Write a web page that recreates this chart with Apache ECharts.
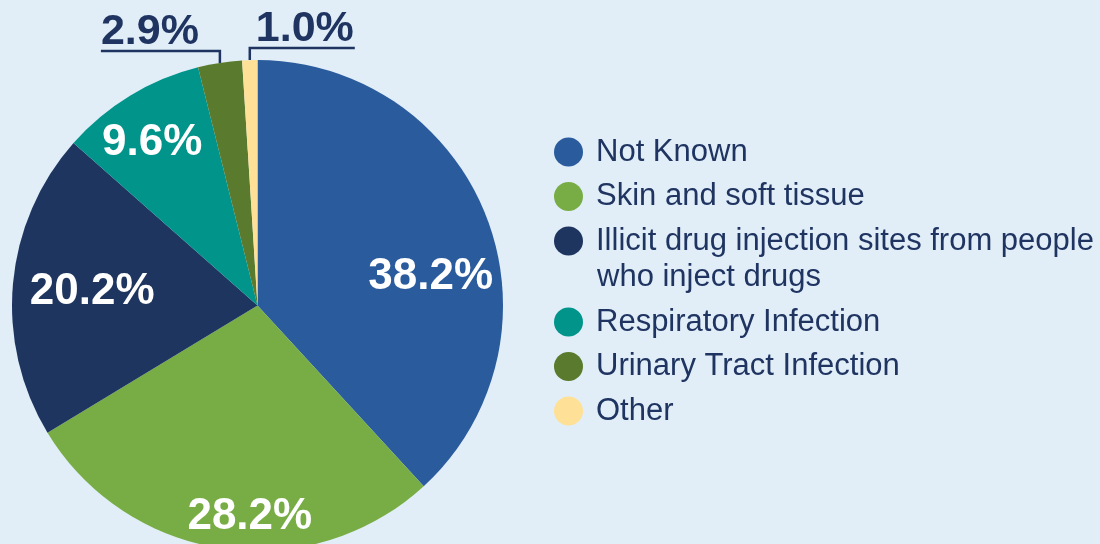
<!DOCTYPE html>
<html>
<head>
<meta charset="utf-8">
<title>Sources of infection</title>
<script src="https://cdn.jsdelivr.net/npm/echarts@6/dist/echarts.min.js"></script>
<style>
  html, body { margin: 0; padding: 0; background: #e1eef8; }
  #chart { width: 1100px; height: 544px; }
</style>
</head>
<body>
<div id="chart"></div>
<script>
// categories and shares (%)
const categories = [
  'Not Known',
  'Skin and soft tissue',
  'Illicit drug injection sites from people who inject drugs',
  'Respiratory Infection',
  'Urinary Tract Infection',
  'Other'
]
const shares = [38.2, 28.2, 20.2, 9.6, 2.9, 1.0]
const colors = ['#2a5b9c', '#78ad45', '#1e355f', '#00948a', '#5a7b2d', '#fee096']

// nudge of the white labels away from the default inside spot
const labelShift = [[56, 17], [10, 87], [-40, -2], [-40, -55]]
// the long legend entry wraps after this word
const wrapAfter = 'people'

const NAVY = '#1f3461'
const FONT = '"Liberation Sans", Arial, Helvetica, sans-serif'
const LEGEND_X = 554

const chart = echarts.init(document.getElementById('chart'))

// small slices: label above the pie, leader goes up then runs under the text
function outsideLayout(p) {
  const start = p.labelLinePoints[0]
  const lineY = start[1] - 12
  const w = p.labelRect.width
  if (p.dataIndex === 4) {
    const endX = start[0] - w - 21
    return {
      x: endX, y: lineY - 19, align: 'left', verticalAlign: 'middle',
      labelLinePoints: [start, [start[0], lineY], [endX, lineY]]
    }
  }
  const endX = start[0] + w + 7
  return {
    x: start[0] + 6, y: lineY - 19, align: 'left', verticalAlign: 'middle',
    labelLinePoints: [start, [start[0], lineY], [endX, lineY]]
  }
}

function legendName(name) {
  const i = name.indexOf(wrapAfter)
  return i > 0 ? name.slice(0, i + wrapAfter.length) : name
}

const legendBase = {
  orient: 'vertical',
  left: LEGEND_X,
  padding: 0,
  icon: 'circle',
  itemWidth: 45,
  itemHeight: 29,
  itemGap: 8.5,
  selectedMode: false,
  formatter: legendName,
  textStyle: { color: NAVY, fontSize: 31, lineHeight: 36, fontFamily: FONT }
}

const longName = categories[2]
const restOfLong = longName.slice(longName.indexOf(wrapAfter) + wrapAfter.length + 1)

const option = {
  backgroundColor: '#e1eef8',
  animation: false,
  color: colors,
  legend: [
    Object.assign({}, legendBase, { top: 134, data: categories.slice(0, 3) }),
    Object.assign({}, legendBase, { top: 304, data: categories.slice(3) })
  ],
  graphic: [{
    type: 'text',
    x: LEGEND_X + 43,
    y: 277,
    style: { text: restOfLong, fill: NAVY, fontSize: 31, fontFamily: FONT, verticalAlign: 'middle' }
  }],
  series: [{
    type: 'pie',
    center: [257.5, 305.5],
    radius: 245.5,
    startAngle: 90,
    clockwise: true,
    avoidLabelOverlap: false,
    emphasis: { disabled: true },
    label: {
      show: true,
      position: 'inside',
      formatter: p => p.value.toFixed(1) + '%',
      color: '#fff',
      fontSize: 44,
      fontWeight: 'bold',
      fontFamily: FONT
    },
    labelLine: { show: false },
    labelLayout: function (p) {
      if (p.dataIndex >= labelShift.length) return outsideLayout(p)
      const s = labelShift[p.dataIndex]
      return {
        x: p.labelRect.x + p.labelRect.width / 2 + s[0],
        y: p.labelRect.y + p.labelRect.height / 2 + s[1],
        align: 'center',
        verticalAlign: 'middle'
      }
    },
    data: categories.map((name, i) => {
      const item = { name: name, value: shares[i] }
      if (i >= labelShift.length) {
        item.label = { position: 'outside', color: NAVY, fontSize: 43 }
        item.labelLine = { show: true, length: 6, length2: 6, lineStyle: { color: NAVY, width: 2.5 } }
      }
      return item
    })
  }]
}

chart.setOption(option)
</script>
</body>
</html>
